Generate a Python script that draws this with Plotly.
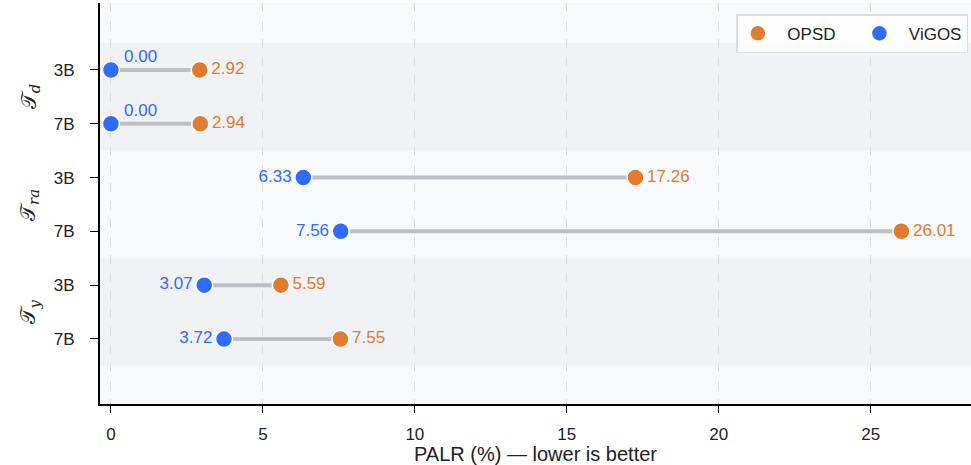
import plotly.graph_objects as go

groups = ["𝒯<sub><i>d</i></sub>", "𝒯<sub><i>ra</i></sub>", "𝒯<sub><i>y</i></sub>"]
models = ["3B", "7B"]
opsd = [2.92, 2.94, 17.26, 26.01, 5.59, 7.55]
vigos = [0.00, 0.00, 6.33, 7.56, 3.07, 3.72]
x_ticks = [0, 5, 10, 15, 20, 25]

ORANGE = "#E07B2F"
BLUE = "#2F6BFF"
FONT = "Liberation Sans, Arial, sans-serif"
NB = "\u00a0"

n = len(opsd)
ys = list(range(n))
row_labels = [models[i % len(models)] for i in range(n)]

fig = go.Figure()

# band shading
per = len(models)
for g in range(len(groups)):
    y0 = g * per - 0.5
    y1 = g * per + per - 0.5
    fill = "#F1F2F5" if g % 2 == 0 else "#F8F9FB"
    fig.add_shape(type="rect", xref="paper", yref="y", x0=0, x1=1, y0=y0, y1=y1,
                  fillcolor=fill, line_width=0, layer="below")

# connectors
cx, cy = [], []
for i in range(n):
    cx += [vigos[i], opsd[i], None]
    cy += [ys[i], ys[i], None]
fig.add_trace(go.Scatter(x=cx, y=cy, mode="lines", line=dict(color="#BCC0C6", width=4),
                         showlegend=False, hoverinfo="skip"))

fig.add_trace(go.Scatter(
    x=opsd, y=ys, mode="markers+text", name=NB * 2 + "OPSD" + NB * 4,
    marker=dict(size=17, color=ORANGE, line=dict(color="white", width=1.5)),
    text=[f"{v:.2f}" for v in opsd], textposition="middle right",
    textfont=dict(color=ORANGE, size=17, family=FONT), cliponaxis=False))

# non-zero ViGOS labels to the left of their dot (invisible markers give the offset)
nz = [i for i, v in enumerate(vigos) if v != 0]
fig.add_trace(go.Scatter(
    x=[vigos[i] for i in nz], y=[ys[i] for i in nz], mode="markers+text",
    marker=dict(size=17, opacity=0),
    text=[f"{vigos[i]:.2f}" for i in nz], textposition="middle left",
    textfont=dict(color=BLUE, size=17, family=FONT), showlegend=False,
    hoverinfo="skip", cliponaxis=False))

fig.add_trace(go.Scatter(
    x=vigos, y=ys, mode="markers", name=NB * 2 + "ViGOS",
    marker=dict(size=17, color=BLUE, line=dict(color="white", width=1.5)),
    cliponaxis=False))

# zero-value labels sit above-right of their dot
for i, v in enumerate(vigos):
    if v == 0:
        fig.add_annotation(x=v, y=ys[i], xref="x", yref="y", text=f"{v:.2f}",
                           showarrow=False, xanchor="left", yanchor="middle",
                           xshift=11, yshift=13,
                           font=dict(color=BLUE, size=17, family=FONT))

# group labels
for g, lab in enumerate(groups):
    fig.add_annotation(xref="paper", yref="y", x=-0.081, y=g * per + (per - 1) / 2,
                       xanchor="center", yanchor="middle",
                       text=lab, showarrow=False, textangle=-90,
                       font=dict(size=21, color="#222", family="DejaVu Serif, serif"))

fig.update_layout(
    width=971, height=465,
    margin=dict(l=100, r=0, t=3, b=61),
    paper_bgcolor="white", plot_bgcolor="#F8F9FB",
    font=dict(family=FONT, color="#222", size=17),
    legend=dict(orientation="h", x=0.997, y=0.972, xanchor="right", yanchor="top",
                bgcolor="rgba(255,255,255,0.85)", bordercolor="#DCDDE1", borderwidth=1.5,
                font=dict(size=17, family=FONT), itemsizing="trace"),
    showlegend=True,
)
fig.update_xaxes(range=[-0.36, 28.3], tickvals=x_ticks, ticks="outside", ticklen=7,
                 tickcolor="black", showline=True, linecolor="black", linewidth=2,
                 showgrid=True, gridcolor="#DCDCDC", griddash="dash", gridwidth=1,
                 zeroline=False, tickfont=dict(size=17), ticklabelstandoff=7,
                 title=dict(text="PALR (%) — lower is better", font=dict(size=20), standoff=6))
fig.update_yaxes(range=[6.21, -1.245], tickvals=ys, ticktext=row_labels, ticks="outside",
                 ticklen=8, tickcolor="black", showline=True, linecolor="black", linewidth=2,
                 showgrid=False, zeroline=False, tickfont=dict(size=17), ticklabelstandoff=12)

fig.write_html("out.html", config={"displayModeBar": False},
               post_script="document.body.style.margin='0';")
